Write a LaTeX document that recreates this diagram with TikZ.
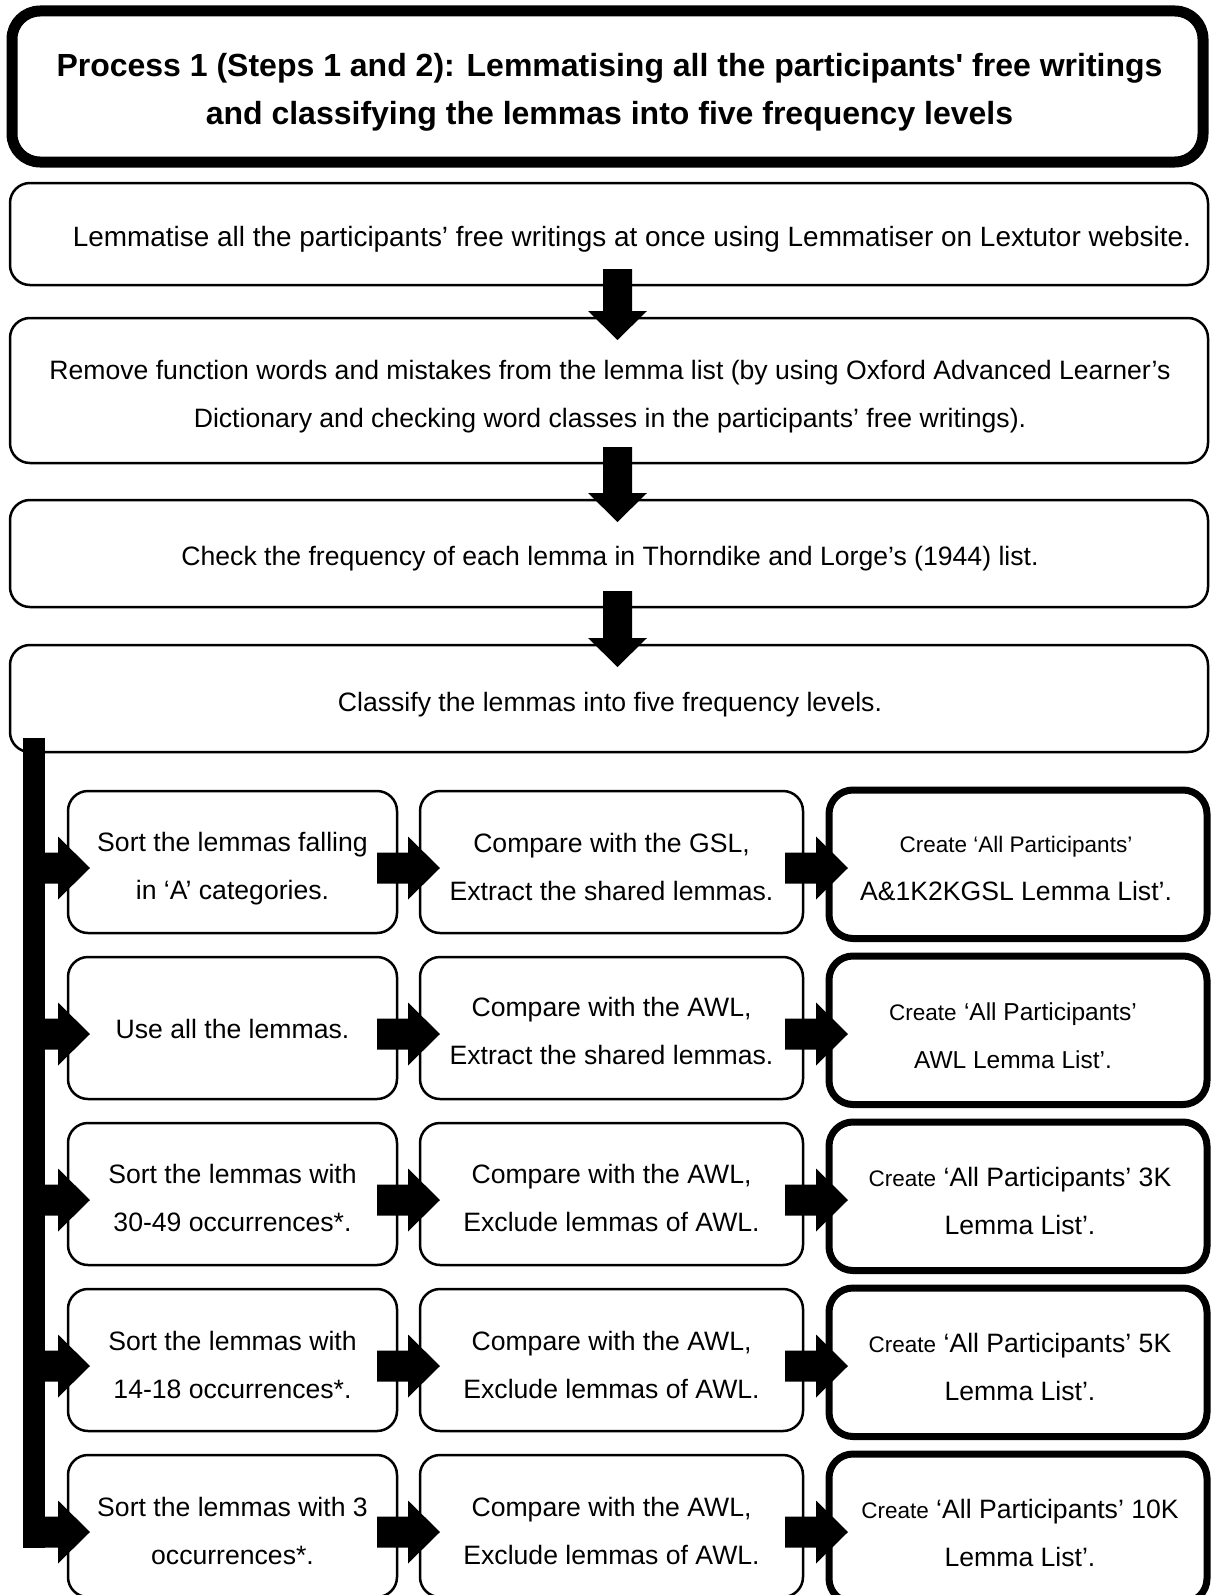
\documentclass[tikz,border=0pt]{standalone}
\usepackage{fontspec}
\newfontfamily\arialfont{Liberation Sans}
\usetikzlibrary{calc}

% block arrow pointing down, from #1 (top of shaft) to #2 (tip)
\newcommand\fatdown[2]{%
  \fill let \p1=(#1), \p2=(#2) in
    (\x1-14.5pt,\y1) -- (\x1+14.5pt,\y1) -- (\x1+14.5pt,\y2+29pt) -- (\x1+29.5pt,\y2+29pt)
    -- (\x1,\y2) -- (\x1-29.5pt,\y2+29pt) -- (\x1-14.5pt,\y2+29pt) -- cycle;}
% block arrow pointing right, from #1 (start of shaft) to #2 (tip)
\newcommand\fatright[2]{%
  \fill let \p1=(#1), \p2=(#2) in
    (\x1,\y1+15.5pt) -- (\x2-32pt,\y1+15.5pt) -- (\x2-32pt,\y1+31.5pt) -- (\x2,\y1)
    -- (\x2-32pt,\y1-31.5pt) -- (\x2-32pt,\y1-15.5pt) -- (\x1,\y1-15.5pt) -- cycle;}
\newcommand\sm{\fontsize{22.5}{48}\selectfont}
\newcommand\md{\fontsize{24.5}{48}\selectfont}

\tikzset{
  box/.style={draw, line width=2.5pt, rounded corners=20pt, fill=white,
    inner sep=0pt, outer sep=0pt},
  keybox/.style={box, line width=7pt, rounded corners=24pt},
  titlebox/.style={box, line width=11pt, rounded corners=28pt},
  txt/.style={align=center, inner sep=0pt, font=\arialfont\fontsize{26.6}{48}\selectfont},
  titletxt/.style={txt, font=\arialfont\bfseries\fontsize{32}{48}\selectfont},
  wideA/.style={minimum width=329pt, minimum height=142pt},
  wideB/.style={minimum width=383pt, minimum height=142pt},
  wideC/.style={minimum width=378pt, minimum height=148.5pt},
}

\begin{document}
\begin{tikzpicture}[x=1pt,y=-1pt]
\useasboundingbox (0,0) rectangle (1211,1595);

% heading
\node[titlebox, minimum width=1191pt, minimum height=151pt] (title) at (607.5,86.5) {};
\node[titletxt] (titlet) at ($(title.center)+(2,6)$)
  {Process 1 (Steps 1 and 2): Lemmatising all the participants' free writings\\
   and classifying the lemmas into five frequency levels};

% main sequence
\node[box, minimum width=1198pt, minimum height=102pt] (b1) at (609,234) {};
\node[txt, font=\arialfont\fontsize{27.9}{48}\selectfont] (b1t) at ($(b1.center)+(23,5)$)
  {Lemmatise all the participants’ free writings at once using Lemmatiser on Lextutor website.};
\node[box, minimum width=1198pt, minimum height=145pt] (b2) at (609,390.5) {};
\node[txt] (b2t) at ($(b2.center)+(1,6)$)
  {Remove function words and mistakes from the lemma list (by using Oxford Advanced Learner’s\\
   Dictionary and checking word classes in the participants’ free writings).};
\node[box, minimum width=1198pt, minimum height=107pt] (b3) at (609,553.5) {};
\node[txt] (b3t) at ($(b3.center)+(1,5)$)
  {Check the frequency of each lemma in Thorndike and Lorge’s (1944) list.};
\node[box, minimum width=1198pt, minimum height=107pt] (b4) at (609,698.5) {};
\node[txt] (b4t) at ($(b4.center)+(1,6)$)
  {Classify the lemmas into five frequency levels.};

% five branches: boxes
\foreach \r/\y in {1/862,2/1028,3/1194,4/1360,5/1526}{
  \node[box, wideA] (r\r a) at (232.5,\y) {};
  \node[box, wideB] (r\r b) at (611.5,\y) {};
  \node[keybox, wideC] (r\r c) at (1018,\y+2.25) {};
}

% five branches: texts
\node[txt] (r1at) at ($(r1a.center)+(0,7)$) {Sort the lemmas falling\\in ‘A’ categories.};
\node[txt] (r1bt) at ($(r1b.center)+(0,5)$) {Compare with the GSL,\\Extract the shared lemmas.};
\node[txt] (r1ct) at ($(r1c.center)+(-2,4)$) {\sm Create ‘All Participants’\\A\&1K2KGSL Lemma List’.};

\node[txt] (r2at) at ($(r2a.center)+(0,1)$) {Use all the lemmas.};
\node[txt] (r2bt) at ($(r2b.center)+(0,3)$) {Compare with the AWL,\\Extract the shared lemmas.};
\node[txt] (r2ct) at ($(r2c.center)+(-5,5)$) {{\sm Create} \md‘All Participants’\\\md AWL Lemma List’.};

\node[txt] (r3at) at ($(r3a.center)+(0,4)$) {Sort the lemmas with\\30-49 occurrences*.};
\node[txt] (r3bt) at ($(r3b.center)+(0,4)$) {Compare with the AWL,\\Exclude lemmas of AWL.};
\node[txt] (r3ct) at ($(r3c.center)+(2,5)$) {{\sm Create} ‘All Participants’ 3K\\Lemma List’.};

\node[txt] (r4at) at ($(r4a.center)+(0,5)$) {Sort the lemmas with\\14-18 occurrences*.};
\node[txt] (r4bt) at ($(r4b.center)+(0,5)$) {Compare with the AWL,\\Exclude lemmas of AWL.};
\node[txt] (r4ct) at ($(r4c.center)+(2,5)$) {{\sm Create} ‘All Participants’ 5K\\Lemma List’.};

\node[txt] (r5at) at ($(r5a.center)+(0,5)$) {Sort the lemmas with 3\\occurrences*.};
\node[txt] (r5bt) at ($(r5b.center)+(0,5)$) {Compare with the AWL,\\Exclude lemmas of AWL.};
\node[txt] (r5ct) at ($(r5c.center)+(2,5)$) {{\sm Create} ‘All Participants’ 10K\\Lemma List’.};

% downward arrows between the main steps
\fatdown{$(b1.south)+(8.5,-16)$}{$(b2.north)+(8.5,22)$}
\fatdown{$(b2.south)+(8.5,-16)$}{$(b3.north)+(8.5,22)$}
\fatdown{$(b3.south)+(8.5,-16)$}{$(b4.north)+(8.5,22)$}

% distribution bar leaving the last step
\coordinate (bartop) at ($(b4.south west)+(24,-14)$);
\coordinate (barend) at ($(bartop |- r5a.west)+(0,6)$);
\fill let \p1=(bartop), \p2=(barend) in (\x1-11pt,\y1) rectangle (\x1+11pt,\y2-15.5pt);

% arrows along each branch
\foreach \r in {1,...,5}{
  \fatright{$(bartop |- r\r a.west)+(0,6)$}{$(r\r a.west)+(22,6)$}
  \fatright{$(r\r a.east)+(-20,6)$}{$(r\r b.west)+(20,6)$}
  \fatright{$(r\r b.east)+(-18,6)$}{$(r\r c.west)+(19,3.75)$}
}
\end{tikzpicture}
\end{document}
